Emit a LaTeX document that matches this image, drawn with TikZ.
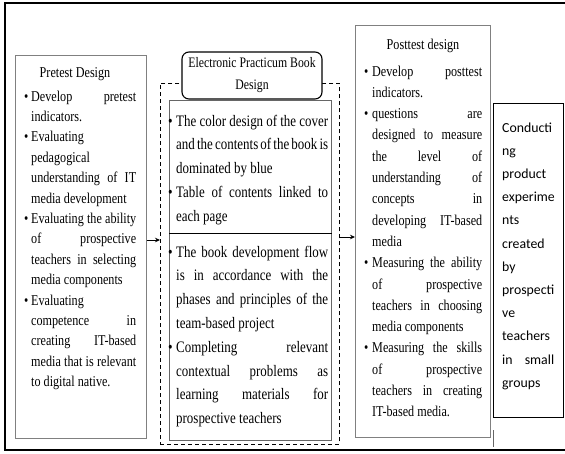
\documentclass[tikz,border=0pt]{standalone}
\usepackage{fontspec}
\setmainfont{Liberation Serif}
\newfontfamily\serc{Liberation Serif}[FakeStretch=0.81]
\newfontfamily\calb{Carlito}
\usetikzlibrary{arrows.meta}
\newlength\bind
\newcommand\BJ[1]{\hbox to \linewidth{\hbox to \bind{\textbullet\hfil}#1}}
\newcommand\BF[1]{\hbox to \linewidth{\hbox to \bind{\textbullet\hfil}#1\hfil}}
\newcommand\CJ[1]{\hbox to \linewidth{\hskip\bind\relax #1}}
\newcommand\CF[1]{\hbox to \linewidth{\hskip\bind\relax #1\hfil}}
\newcommand\FL[1]{\hbox to \linewidth{#1\hfil}}
\newcommand\JL[1]{\hbox to \linewidth{#1}}
\newcommand\blk[5]{\parbox[t]{#1}{\serc\fontsize{#2}{#3}\selectfont\lineskiplimit=-\maxdimen\lineskip=0pt\setlength\bind{#4}#5}}
\newcommand\cblk[1]{\parbox[t]{52pt}{\calb\fontsize{13.8}{23.2}\selectfont\lineskiplimit=-\maxdimen\lineskip=0pt #1}}
\tikzset{
  frame/.style={draw=black, line width=1.5pt},
  graybox/.style={draw=black!50, line width=0.8pt, inner sep=0pt, anchor=north west},
  innerbox/.style={draw=black!60, line width=0.8pt, inner sep=0pt, anchor=north west},
  dashbox/.style={draw=black, line width=0.9pt, dash pattern=on 4pt off 3pt, inner sep=0pt, anchor=north west},
  hdrbox/.style={draw=black, line width=1.1pt, rounded corners=7pt, fill=white, inner sep=0pt,
    minimum width=140pt, minimum height=47pt, align=center,
    font=\serc\fontsize{14.5}{22}\selectfont},
  condbox/.style={draw=black, line width=1.2pt, inner sep=0pt, anchor=north west},
  txt/.style={inner sep=0pt, anchor=base west},
  ttl/.style={inner sep=0pt, anchor=base, font=\serc\fontsize{15}{17}\selectfont},
  arr/.style={draw=black, line width=0.8pt, -{Stealth[length=5pt,width=4.5pt]}},
}
\begin{document}
\begin{tikzpicture}[x=1pt,y=-1pt]
\useasboundingbox (0,0) rectangle (565,453);
\fill[white] (0,0) rectangle (565,453);
\draw[frame] (5,3) rectangle (570,450);

% boxes
\node[graybox, minimum width=131pt, minimum height=383pt] (prebox) at (15,55) {};
\node[dashbox, minimum width=179pt, minimum height=361pt] (dash) at (160,83) {};
\node[innerbox, minimum width=162pt, minimum height=133pt] (up) at (169,100) {};
\node[innerbox, minimum width=162pt, minimum height=207pt] (low) at (169,233) {};
\draw[black, line width=0.8pt] (up.south west) -- (up.south east);
\node[hdrbox] (hdr) at (252,75.5) {Electronic Practicum Book\\Design};
\node[graybox, minimum width=135pt, minimum height=412pt] (post) at (355,25) {};
\draw[black!60, line width=0.8pt] (493,430) -- (493,447);
\node[condbox, minimum width=70pt, minimum height=314pt] (cond) at (493,103) {};

% connectors
\coordinate (a1) at (0,240);
\coordinate (a2) at (0,237);
\draw[arr] (prebox.east |- a1) -- (dash.west |- a1);
\draw[arr] (dash.east |- a2) -- (post.west |- a2);

% titles
\node[ttl] (pret) at (75,77) {Pretest Design};
\node[ttl] (postt) at (423,49) {Posttest design};

% texts
\node[txt] (pretx) at (24,101) {\blk{112pt}{15}{20.4}{7pt}{%
\BJ{Develop pretest}
\CF{indicators.}
\BF{Evaluating}
\CF{pedagogical}
\CJ{understanding of IT}
\CF{media development}
\BJ{Evaluating the ability}
\CJ{of prospective}
\CJ{teachers in selecting}
\CF{media components}
\BF{Evaluating}
\CJ{competence in}
\CJ{creating IT-based}
\CJ{media that is relevant}
\CF{to digital native.}}};

\node[txt] (uptx) at (168,126) {\blk{160pt}{16}{23.8}{8pt}{%
\BJ{The color design of the cover}
\CJ{and the contents of the book is}
\CF{dominated by blue}
\BJ{Table of contents linked to}
\CF{each page}}};

\node[txt] (lowtx) at (168,257) {\blk{160pt}{16}{23.8}{8pt}{%
\BJ{The book development flow}
\CJ{is in accordance with the}
\CJ{phases and principles of the}
\CF{team-based project}
\BJ{Completing relevant}
\CJ{contextual problems as}
\CJ{learning materials for}
\CF{prospective teachers}}};

\node[txt] (posttx) at (364,76) {\blk{118pt}{15}{21.3}{8pt}{%
\BJ{Develop posttest}
\CF{indicators.}
\BJ{questions are}
\CJ{designed to measure}
\CJ{the level of}
\CJ{understanding of}
\CJ{concepts in}
\CJ{developing IT-based}
\CF{media}
\BJ{Measuring the ability}
\CJ{of prospective}
\CJ{teachers in choosing}
\CF{media components}
\BJ{Measuring the skills}
\CJ{of prospective}
\CJ{teachers in creating}
\CF{IT-based media.}}};

\node[txt] (condtx) at (502,132) {\cblk{%
\FL{Conducti}
\FL{ng}
\FL{product}
\FL{experime}
\FL{nts}
\FL{created}
\FL{by}
\FL{prospecti}
\FL{ve}
\FL{teachers}
\JL{in small}
\FL{groups}}};
\end{tikzpicture}
\end{document}
